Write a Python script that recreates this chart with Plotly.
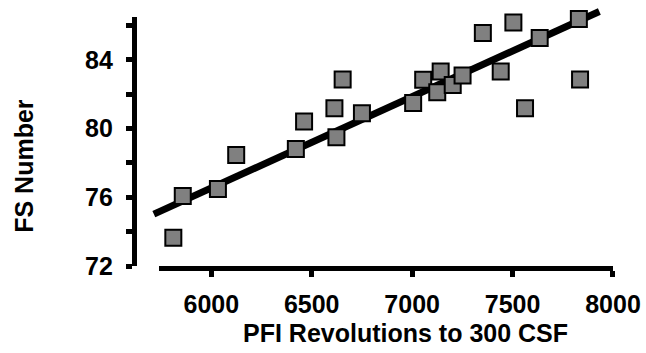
import plotly.graph_objects as go

# ---- data ----
pfi_revs = [5811, 5858, 6033, 6124, 6421, 6462, 6613, 6623, 6654, 6750,
            7005, 7055, 7142, 7125, 7202, 7251, 7352, 7441, 7504, 7562,
            7635, 7830, 7836]
fs_number = [73.65, 76.07, 76.48, 78.46, 78.81, 80.42, 81.19, 79.50, 82.86, 80.89,
             81.49, 82.85, 83.32, 82.12, 82.54, 83.10, 85.57, 83.32, 86.18, 81.19,
             85.27, 86.38, 82.86]
fit_x = [5714, 7932]
fit_y = [75.02, 86.82]

x_tickvals = [6000, 6500, 7000, 7500, 8000]
x_ticktext = ["6000", "6500", "7000", "7500", "8000"]
y_tickvals = [72, 74, 76, 78, 80, 82, 84, 86]
y_ticktext = ["72", "", "76", "", "80", "", "84", ""]

x_title = "PFI Revolutions to 300 CSF"
y_title = "FS Number"

# ---- layout geometry (pixels) ----
W, H = 646, 353
L, R, T, B = 100, 31, 5, 87
PW, PH = W - L - R, H - T - B
X0_PX, X1_PX = 159.3, 615.0        # x-axis line extent
Y_TOP_PX = 17.0                    # top of y-axis line
YAX_PX = 134.0                     # y-axis line position
XMIN, XMAX = 5740, 8000
YMIN, YMAX = 72, 86.5

def paper_x(px):
    return (px - L) / PW

def paper_y(py):
    return (H - B - py) / PH

# extended (invisible) axes for the trend line so it is not clipped
ppx = (X1_PX - X0_PX) / (XMAX - XMIN)
ext_xmin = XMIN - (X0_PX - L) / ppx
ppy = ((H - B) - Y_TOP_PX) / (YMAX - YMIN)
ext_ymax = YMIN + PH / ppy

font_family = "Liberation Sans, Arial, sans-serif"
FS = 25

fig = go.Figure()
fig.add_trace(go.Scatter(
    x=fit_x, y=fit_y, mode="lines", xaxis="x", yaxis="y",
    line=dict(color="black", width=7), hoverinfo="skip", showlegend=False,
))
fig.add_trace(go.Scatter(
    x=pfi_revs, y=fs_number, mode="markers", xaxis="x2", yaxis="y2",
    marker=dict(symbol="square", size=16, color="#808080",
                line=dict(color="black", width=2)),
    cliponaxis=False, showlegend=False,
))

axis_common = dict(showgrid=False, zeroline=False)
tick_font = dict(family=font_family, size=FS, color="black", weight="bold")

fig.update_layout(
    width=W, height=H,
    margin=dict(l=L, r=R, t=T, b=B, pad=0),
    paper_bgcolor="white", plot_bgcolor="rgba(0,0,0,0)",
    showlegend=False,
    xaxis=dict(domain=[0, 1], range=[ext_xmin, XMAX], visible=False, anchor="y", **axis_common),
    yaxis=dict(domain=[0, 1], range=[YMIN, ext_ymax], visible=False, anchor="x", **axis_common),
    xaxis2=dict(domain=[paper_x(X0_PX), 1], range=[XMIN, XMAX], anchor="y2",
                showline=True, linecolor="black", linewidth=5,
                ticks="outside", ticklen=6, tickwidth=5, tickcolor="black",
                tickvals=x_tickvals, ticktext=x_ticktext, tickfont=tick_font,
                ticklabelstandoff=6, **axis_common),
    yaxis2=dict(domain=[0, paper_y(Y_TOP_PX)], range=[YMIN, YMAX], anchor="free",
                position=paper_x(YAX_PX),
                showline=True, linecolor="black", linewidth=5,
                ticks="outside", ticklen=6, tickwidth=5, tickcolor="black",
                tickvals=y_tickvals, ticktext=y_ticktext, tickfont=tick_font,
                ticklabelstandoff=8, **axis_common),
    annotations=[
        dict(text=x_title, xref="paper", yref="paper",
             x=paper_x(407), y=paper_y(333), xanchor="center", yanchor="middle",
             showarrow=False, font=dict(family=font_family, size=FS, color="black", weight="bold")),
        dict(text=y_title, xref="paper", yref="paper", textangle=-90,
             x=paper_x(23), y=paper_y(165.5), xanchor="center", yanchor="middle",
             showarrow=False, font=dict(family=font_family, size=FS, color="black", weight="bold")),
    ],
)

fig.write_html("out.html")
